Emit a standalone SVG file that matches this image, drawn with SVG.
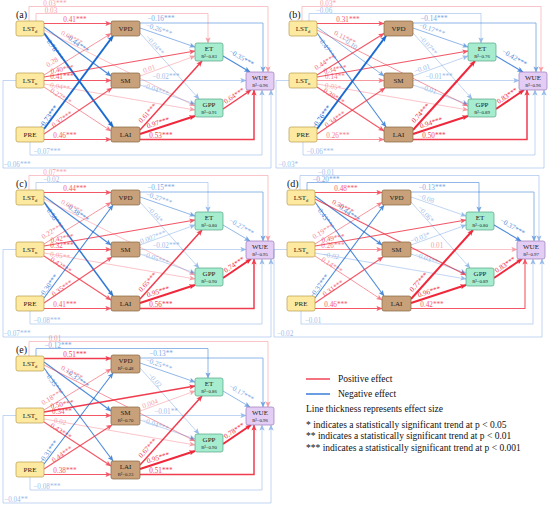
<svg xmlns="http://www.w3.org/2000/svg" width="550" height="508" viewBox="0 0 550 508">
<style>
text{font-family:"Liberation Serif","Times New Roman",serif}
.el path{fill:none}
.el text{font-size:7.2px;text-anchor:middle}
.p path{stroke:#f0283c;marker-end:url(#mr)}
.n path{stroke:#1b6ad1;marker-end:url(#mb)}
.p text{fill:#f0283c}
.n text{fill:#1b6ad1}
.s1{opacity:.45}.s1 path{stroke-width:.6}
.s2{opacity:.6}.s2 path{stroke-width:.8}
.s3{opacity:.78}.s3 path{stroke-width:1.1}
.s4{opacity:.9}.s4 path{stroke-width:1.5}
.s5 path{stroke-width:2}
.nd rect{stroke-width:.7}
.nd text{font-size:7px;text-anchor:middle;fill:#222}
.nd .r{font-size:4.8px}
.y rect{fill:#fde9a0;stroke:#b89c4c}
.b rect{fill:#c8a079;stroke:#86643f}
.g rect{fill:#a6eccf;stroke:#58a584}
.u rect{fill:#e3cdf4;stroke:#9a7cb9}
.pl{font-size:10px;fill:#111}
.lg{font-size:9.5px;fill:#111}
</style>
<defs>
<marker id="mr" markerUnits="userSpaceOnUse" markerWidth="6" markerHeight="6" refX="5.6" refY="3" orient="auto"><path d="M0,0.4L6,3L0,5.6L1.4,3z" fill="#f0283c"/></marker>
<marker id="mb" markerUnits="userSpaceOnUse" markerWidth="6" markerHeight="6" refX="5.6" refY="3" orient="auto"><path d="M0,0.4L6,3L0,5.6L1.4,3z" fill="#1b6ad1"/></marker>
</defs>

<!-- Panel a -->
<g id="panel-a">
<text class="pl" x="16" y="17.5">(a)</text>
<g id="a-connectors" class="el">
<g class="p s1"><path d="M29,21V6.5H268V72"/><text x="55" y="5.5">0.03***</text></g>
<g class="p s1"><path d="M36,21V13.5H208V43"/><text x="51" y="12.5">0.03</text></g>
<g class="p s3"><path d="M44,23.5H111"/><text x="75" y="21.5">0.41***</text></g>
<g class="n s3"><path d="M44,27L111,76"/><text transform="translate(77,43) rotate(36)" y="2.5">−0.44***</text></g>
<g class="n s5"><path d="M44,33L113,127"/><text transform="translate(54,48) rotate(55)" y="2.5">−0.76***</text></g>
<g class="p s1"><path d="M44,30L195,106"/><text transform="translate(72,37.5) rotate(27)" y="2.5">0.09***</text></g>
<g class="p s2"><path d="M44,75L111,33.5"/><text transform="translate(52,62) rotate(-31)" y="2.5">0.28</text></g>
<g class="p s3"><path d="M44,77L195,51"/><text transform="translate(62,69) rotate(-10)" y="2.5">0.40***</text></g>
<g class="p s3"><path d="M44,80.5H111"/><text x="62" y="79">0.41***</text></g>
<g class="p s1"><path d="M44,84L195,110"/><text transform="translate(60,86.5) rotate(10)" y="2.5">0.04**</text></g>
<g class="p s2"><path d="M44,87L111,131"/><text transform="translate(61,96) rotate(33)" y="2.5">0.27***</text></g>
<g class="n s1"><path d="M16,80.5H3V168H271V90"/><text x="17" y="166.5">−0.06***</text></g>
<g class="n s5"><path d="M44,129L113,36"/><text transform="translate(48,117) rotate(-54)" y="2.5">−0.73***</text></g>
<g class="p s3"><path d="M44,134L112,88"/><text transform="translate(62,119) rotate(-35)" y="2.5">0.37***</text></g>
<g class="p s3"><path d="M44,139.5H111"/><text x="65" y="138">0.46***</text></g>
<g class="n s1"><path d="M30,142V155H262V90"/><text x="47" y="153.5">−0.07***</text></g>
<g class="n s2"><path d="M140,23H263V72"/><text x="161" y="21">−0.16***</text></g>
<g class="n s2"><path d="M140,28L195,47"/><text transform="translate(159,29) rotate(19)" y="2.5">−0.26***</text></g>
<g class="n s1"><path d="M140,33L199,99"/><text transform="translate(155,45) rotate(48)" y="2.5">−0.04**</text></g>
<g class="p s1"><path d="M140,76L195,56"/><text transform="translate(149,68.5) rotate(-20)" y="2.5">0.01</text></g>
<g class="n s1"><path d="M140,80.5H246"/><text x="166" y="79">−0.02***</text></g>
<g class="n s1"><path d="M140,85L195,104"/><text transform="translate(155.5,89) rotate(19)" y="2.5">−0.04***</text></g>
<g class="p s4"><path d="M140,130L202,61"/><text transform="translate(147.5,113) rotate(-48)" y="2.5">0.61***</text></g>
<g class="p s5"><path d="M140,134L195,116"/><text transform="translate(158,122.5) rotate(-18)" y="2.5">0.97***</text></g>
<g class="p s4"><path d="M140,139.5H254V90"/><text x="161" y="138">0.53***</text></g>
<g class="n s3"><path d="M223,56L250,72"/><text transform="translate(241.5,57.5) rotate(30)" y="2.5">−0.35***</text></g>
<g class="p s4"><path d="M223,109L251,90"/><text transform="translate(234,95.5) rotate(-34)" y="2.5">0.64***</text></g>
</g>
<g id="a-LSTd" class="nd y"><rect x="16" y="21" width="28" height="15" rx="2"/><text x="30" y="31">LST<tspan font-size="4.5" dy="1.5">d</tspan></text></g>
<g id="a-LSTn" class="nd y"><rect x="16" y="73" width="28" height="15" rx="2"/><text x="30" y="83">LST<tspan font-size="4.5" dy="1.5">n</tspan></text></g>
<g id="a-PRE" class="nd y"><rect x="16" y="127" width="28" height="15" rx="2"/><text x="30" y="137">PRE</text></g>
<g id="a-VPD" class="nd b"><rect x="111" y="21" width="29" height="15" rx="2"/><text x="125.5" y="31">VPD</text></g>
<g id="a-SM" class="nd b"><rect x="111" y="73" width="29" height="15" rx="2"/><text x="125.5" y="83">SM</text></g>
<g id="a-LAI" class="nd b"><rect x="111" y="127" width="29" height="15" rx="2"/><text x="125.5" y="137">LAI</text></g>
<g id="a-ET" class="nd g"><rect x="195" y="43" width="28" height="18" rx="2"/><text x="209" y="51">ET</text><text class="r" x="209" y="58">R²=0.83</text></g>
<g id="a-GPP" class="nd g"><rect x="195" y="99" width="28" height="18" rx="2"/><text x="209" y="107">GPP</text><text class="r" x="209" y="114">R²=0.91</text></g>
<g id="a-WUE" class="nd u"><rect x="246" y="72" width="28" height="18" rx="2"/><text x="260" y="80">WUE</text><text class="r" x="260" y="87">R²=0.96</text></g>
</g>

<!-- Panel b -->
<g id="panel-b" transform="translate(273,0)">
<text class="pl" x="16" y="17.5">(b)</text>
<g id="b-connectors" class="el">
<g class="p s1"><path d="M29,21V6.5H268V72"/><text x="55" y="5.5">0.03*</text></g>
<g class="n s1"><path d="M36,21V13.5H208V43"/><text x="51" y="12.5">−0.06</text></g>
<g class="p s3"><path d="M44,23.5H111"/><text x="75" y="21.5">0.31***</text></g>
<g class="n s2"><path d="M44,27L111,76"/><text transform="translate(77,43) rotate(36)" y="2.5">−0.10</text></g>
<g class="n s3"><path d="M44,33L113,127"/><text transform="translate(54,48) rotate(55)" y="2.5">−0.47***</text></g>
<g class="p s2"><path d="M44,30L195,106"/><text transform="translate(72,37.5) rotate(27)" y="2.5">0.11***</text></g>
<g class="p s3"><path d="M44,75L111,33.5"/><text transform="translate(52,62) rotate(-31)" y="2.5">0.44***</text></g>
<g class="p s3"><path d="M44,77L195,51"/><text transform="translate(62,69) rotate(-10)" y="2.5">0.34***</text></g>
<g class="p s2"><path d="M44,80.5H111"/><text x="62" y="79">0.14**</text></g>
<g class="p s1"><path d="M44,84L195,110"/><text transform="translate(60,86.5) rotate(10)" y="2.5">0.05*</text></g>
<g class="p s3"><path d="M44,87L111,131"/><text transform="translate(61,96) rotate(33)" y="2.5">0.39***</text></g>
<g class="n s1"><path d="M16,80.5H3V168H271V90"/><text x="15" y="166.5">−0.03*</text></g>
<g class="n s5"><path d="M44,129L113,36"/><text transform="translate(48,117) rotate(-54)" y="2.5">−0.76***</text></g>
<g class="p s3"><path d="M44,134L112,88"/><text transform="translate(62,119) rotate(-35)" y="2.5">0.34***</text></g>
<g class="p s2"><path d="M44,139.5H111"/><text x="65" y="138">0.26***</text></g>
<g class="n s1"><path d="M30,142V155H262V90"/><text x="47" y="153.5">−0.06***</text></g>
<g class="n s2"><path d="M140,23H263V72"/><text x="161" y="21">−0.14***</text></g>
<g class="n s2"><path d="M140,28L195,47"/><text transform="translate(159,29) rotate(19)" y="2.5">−0.17***</text></g>
<g class="n s1"><path d="M140,33L199,99"/><text transform="translate(155,45) rotate(48)" y="2.5">−0.07**</text></g>
<g class="n s1"><path d="M140,76L195,56"/><text transform="translate(149,68.5) rotate(-20)" y="2.5">−0.01</text></g>
<g class="n s1"><path d="M140,80.5H246"/><text x="166" y="79">−0.01***</text></g>
<g class="n s1"><path d="M140,85L195,104"/><text transform="translate(155.5,89) rotate(19)" y="2.5">−0.01</text></g>
<g class="p s5"><path d="M140,130L202,61"/><text transform="translate(147.5,113) rotate(-48)" y="2.5">0.74***</text></g>
<g class="p s5"><path d="M140,134L195,116"/><text transform="translate(158,122.5) rotate(-18)" y="2.5">0.94***</text></g>
<g class="p s4"><path d="M140,139.5H254V90"/><text x="161" y="138">0.50***</text></g>
<g class="n s3"><path d="M223,56L250,72"/><text transform="translate(241.5,57.5) rotate(30)" y="2.5">−0.42***</text></g>
<g class="p s5"><path d="M223,109L251,90"/><text transform="translate(234,95.5) rotate(-34)" y="2.5">0.83***</text></g>
</g>
<g id="b-LSTd" class="nd y"><rect x="16" y="21" width="28" height="15" rx="2"/><text x="30" y="31">LST<tspan font-size="4.5" dy="1.5">d</tspan></text></g>
<g id="b-LSTn" class="nd y"><rect x="16" y="73" width="28" height="15" rx="2"/><text x="30" y="83">LST<tspan font-size="4.5" dy="1.5">n</tspan></text></g>
<g id="b-PRE" class="nd y"><rect x="16" y="127" width="28" height="15" rx="2"/><text x="30" y="137">PRE</text></g>
<g id="b-VPD" class="nd b"><rect x="111" y="21" width="29" height="15" rx="2"/><text x="125.5" y="31">VPD</text></g>
<g id="b-SM" class="nd b"><rect x="111" y="73" width="29" height="15" rx="2"/><text x="125.5" y="83">SM</text></g>
<g id="b-LAI" class="nd b"><rect x="111" y="127" width="29" height="15" rx="2"/><text x="125.5" y="137">LAI</text></g>
<g id="b-ET" class="nd g"><rect x="195" y="43" width="28" height="18" rx="2"/><text x="209" y="51">ET</text><text class="r" x="209" y="58">R²=0.76</text></g>
<g id="b-GPP" class="nd g"><rect x="195" y="99" width="28" height="18" rx="2"/><text x="209" y="107">GPP</text><text class="r" x="209" y="114">R²=0.89</text></g>
<g id="b-WUE" class="nd u"><rect x="246" y="72" width="28" height="18" rx="2"/><text x="260" y="80">WUE</text><text class="r" x="260" y="87">R²=0.96</text></g>
</g>

<!-- Panel c -->
<g id="panel-c" transform="translate(0,169)">
<text class="pl" x="16" y="17.5">(c)</text>
<g id="c-connectors" class="el">
<g class="p s1"><path d="M29,21V6.5H268V72"/><text x="55" y="5.5">0.07***</text></g>
<g class="n s1"><path d="M36,21V13.5H208V43"/><text x="51" y="12.5">−0.02</text></g>
<g class="p s3"><path d="M44,23.5H111"/><text x="75" y="21.5">0.44***</text></g>
<g class="n s3"><path d="M44,27L111,76"/><text transform="translate(77,43) rotate(36)" y="2.5">−0.38***</text></g>
<g class="n s4"><path d="M44,33L113,127"/><text transform="translate(54,48) rotate(55)" y="2.5">−0.58***</text></g>
<g class="p s1"><path d="M44,30L195,106"/><text transform="translate(72,37.5) rotate(27)" y="2.5">0.09***</text></g>
<g class="p s2"><path d="M44,75L111,33.5"/><text transform="translate(52,62) rotate(-31)" y="2.5">0.22***</text></g>
<g class="p s3"><path d="M44,77L195,51"/><text transform="translate(62,69) rotate(-10)" y="2.5">0.42***</text></g>
<g class="p s3"><path d="M44,80.5H111"/><text x="62" y="79">0.32***</text></g>
<g class="p s1"><path d="M44,84L195,110"/><text transform="translate(60,86.5) rotate(10)" y="2.5">0.05**</text></g>
<g class="p s3"><path d="M44,87L111,131"/><text transform="translate(61,96) rotate(33)" y="2.5">0.42***</text></g>
<g class="n s1"><path d="M16,80.5H3V168H271V90"/><text x="17" y="166.5">−0.07***</text></g>
<g class="n s3"><path d="M44,129L113,36"/><text transform="translate(48,117) rotate(-54)" y="2.5">−0.30***</text></g>
<g class="p s3"><path d="M44,134L112,88"/><text transform="translate(62,119) rotate(-35)" y="2.5">0.35***</text></g>
<g class="p s3"><path d="M44,139.5H111"/><text x="65" y="138">0.41***</text></g>
<g class="n s1"><path d="M30,142V155H262V90"/><text x="47" y="153.5">−0.08***</text></g>
<g class="n s2"><path d="M140,23H263V72"/><text x="161" y="21">−0.15***</text></g>
<g class="n s2"><path d="M140,28L195,47"/><text transform="translate(159,29) rotate(19)" y="2.5">−0.27***</text></g>
<g class="n s1"><path d="M140,33L199,99"/><text transform="translate(155,45) rotate(48)" y="2.5">−0.04*</text></g>
<g class="n s1"><path d="M140,76L195,56"/><text transform="translate(151,68.5) rotate(-20)" y="2.5">−0.007***</text></g>
<g class="n s1"><path d="M140,80.5H246"/><text x="166" y="79">−0.02***</text></g>
<g class="n s1"><path d="M140,85L195,104"/><text transform="translate(155.5,89) rotate(19)" y="2.5">−0.05***</text></g>
<g class="p s4"><path d="M140,130L202,61"/><text transform="translate(147.5,113) rotate(-48)" y="2.5">0.65***</text></g>
<g class="p s5"><path d="M140,134L195,116"/><text transform="translate(158,122.5) rotate(-18)" y="2.5">0.95***</text></g>
<g class="p s4"><path d="M140,139.5H254V90"/><text x="161" y="138">0.56***</text></g>
<g class="n s2"><path d="M223,56L250,72"/><text transform="translate(241.5,57.5) rotate(30)" y="2.5">−0.27***</text></g>
<g class="p s5"><path d="M223,109L251,90"/><text transform="translate(234,95.5) rotate(-34)" y="2.5">0.74***</text></g>
</g>
<g id="c-LSTd" class="nd y"><rect x="16" y="21" width="28" height="15" rx="2"/><text x="30" y="31">LST<tspan font-size="4.5" dy="1.5">d</tspan></text></g>
<g id="c-LSTn" class="nd y"><rect x="16" y="73" width="28" height="15" rx="2"/><text x="30" y="83">LST<tspan font-size="4.5" dy="1.5">n</tspan></text></g>
<g id="c-PRE" class="nd y"><rect x="16" y="127" width="28" height="15" rx="2"/><text x="30" y="137">PRE</text></g>
<g id="c-VPD" class="nd b"><rect x="111" y="21" width="29" height="15" rx="2"/><text x="125.5" y="31">VPD</text></g>
<g id="c-SM" class="nd b"><rect x="111" y="73" width="29" height="15" rx="2"/><text x="125.5" y="83">SM</text></g>
<g id="c-LAI" class="nd b"><rect x="111" y="127" width="29" height="15" rx="2"/><text x="125.5" y="137">LAI</text></g>
<g id="c-ET" class="nd g"><rect x="195" y="43" width="28" height="18" rx="2"/><text x="209" y="51">ET</text><text class="r" x="209" y="58">R²=0.80</text></g>
<g id="c-GPP" class="nd g"><rect x="195" y="99" width="28" height="18" rx="2"/><text x="209" y="107">GPP</text><text class="r" x="209" y="114">R²=0.90</text></g>
<g id="c-WUE" class="nd u"><rect x="246" y="72" width="28" height="18" rx="2"/><text x="260" y="80">WUE</text><text class="r" x="260" y="87">R²=0.95</text></g>
</g>

<!-- Panel d -->
<g id="panel-d" transform="translate(271,169)">
<text class="pl" x="16" y="17.5">(d)</text>
<g id="d-connectors" class="el">
<g class="n s1"><path d="M29,21V6.5H268V72"/><text x="55" y="5.5">−0.01</text></g>
<g class="n s2"><path d="M36,21V13.5H208V43"/><text x="55" y="12.5">−0.20***</text></g>
<g class="p s3"><path d="M44,23.5H111"/><text x="75" y="21.5">0.48***</text></g>
<g class="n s3"><path d="M44,27L111,76"/><text transform="translate(77,43) rotate(36)" y="2.5">−0.44***</text></g>
<g class="n s3"><path d="M44,33L113,127"/><text transform="translate(54,48) rotate(55)" y="2.5">−0.43***</text></g>
<g class="p s3"><path d="M44,30L195,106"/><text transform="translate(72,37.5) rotate(27)" y="2.5">0.30***</text></g>
<g class="p s2"><path d="M44,75L111,33.5"/><text transform="translate(52,62) rotate(-31)" y="2.5">0.19***</text></g>
<g class="p s3"><path d="M44,77L195,51"/><text transform="translate(62,69) rotate(-10)" y="2.5">0.49***</text></g>
<g class="p s2"><path d="M44,80.5H111"/><text x="62" y="79">0.26***</text></g>
<g class="n s1"><path d="M44,84L195,110"/><text transform="translate(60,86.5) rotate(10)" y="2.5">−0.02</text></g>
<g class="p s2"><path d="M44,87L111,131"/><text transform="translate(61,96) rotate(33)" y="2.5">0.14***</text></g>
<g class="n s1"><path d="M16,80.5H3V168H271V90"/><text x="14" y="166.5">−0.02</text></g>
<g class="n s3"><path d="M44,129L113,36"/><text transform="translate(48,117) rotate(-54)" y="2.5">−0.37***</text></g>
<g class="p s3"><path d="M44,134L112,88"/><text transform="translate(62,119) rotate(-35)" y="2.5">0.31***</text></g>
<g class="p s3"><path d="M44,139.5H111"/><text x="65" y="138">0.46***</text></g>
<g class="n s1"><path d="M30,142V155H262V90"/><text x="42" y="153.5">−0.01</text></g>
<g class="n s2"><path d="M140,23H263V72"/><text x="161" y="21">−0.13***</text></g>
<g class="n s1"><path d="M140,28L195,47"/><text transform="translate(155,29) rotate(19)" y="2.5">−0.08</text></g>
<g class="n s1"><path d="M140,33L199,99"/><text transform="translate(155,45) rotate(48)" y="2.5">−0.06*</text></g>
<g class="n s1"><path d="M140,76L195,56"/><text transform="translate(149,68.5) rotate(-20)" y="2.5">−0.03*</text></g>
<g class="p s1"><path d="M140,80.5H246"/><text x="166" y="79">0.01</text></g>
<g class="n s1"><path d="M140,85L195,104"/><text transform="translate(155.5,89) rotate(19)" y="2.5">−0.03**</text></g>
<g class="p s5"><path d="M140,130L202,61"/><text transform="translate(147.5,113) rotate(-48)" y="2.5">0.77***</text></g>
<g class="p s5"><path d="M140,134L195,116"/><text transform="translate(158,122.5) rotate(-18)" y="2.5">0.96***</text></g>
<g class="p s3"><path d="M140,139.5H254V90"/><text x="161" y="138">0.42***</text></g>
<g class="n s3"><path d="M223,56L250,72"/><text transform="translate(241.5,57.5) rotate(30)" y="2.5">−0.37***</text></g>
<g class="p s5"><path d="M223,109L251,90"/><text transform="translate(234,95.5) rotate(-34)" y="2.5">0.83***</text></g>
</g>
<g id="d-LSTd" class="nd y"><rect x="16" y="21" width="28" height="15" rx="2"/><text x="30" y="31">LST<tspan font-size="4.5" dy="1.5">d</tspan></text></g>
<g id="d-LSTn" class="nd y"><rect x="16" y="73" width="28" height="15" rx="2"/><text x="30" y="83">LST<tspan font-size="4.5" dy="1.5">n</tspan></text></g>
<g id="d-PRE" class="nd y"><rect x="16" y="127" width="28" height="15" rx="2"/><text x="30" y="137">PRE</text></g>
<g id="d-VPD" class="nd b"><rect x="111" y="21" width="29" height="15" rx="2"/><text x="125.5" y="31">VPD</text></g>
<g id="d-SM" class="nd b"><rect x="111" y="73" width="29" height="15" rx="2"/><text x="125.5" y="83">SM</text></g>
<g id="d-LAI" class="nd b"><rect x="111" y="127" width="29" height="15" rx="2"/><text x="125.5" y="137">LAI</text></g>
<g id="d-ET" class="nd g"><rect x="195" y="43" width="28" height="18" rx="2"/><text x="209" y="51">ET</text><text class="r" x="209" y="58">R²=0.80</text></g>
<g id="d-GPP" class="nd g"><rect x="195" y="99" width="28" height="18" rx="2"/><text x="209" y="107">GPP</text><text class="r" x="209" y="114">R²=0.89</text></g>
<g id="d-WUE" class="nd u"><rect x="246" y="72" width="28" height="18" rx="2"/><text x="260" y="80">WUE</text><text class="r" x="260" y="87">R²=0.97</text></g>
</g>

<!-- Panel e -->
<g id="panel-e" transform="translate(0,335)">
<text class="pl" x="16" y="17.5">(e)</text>
<g id="e-connectors" class="el">
<g class="p s1"><path d="M29,21V6.5H268V72"/><text x="55" y="5.5">0.01</text></g>
<g class="n s2"><path d="M36,21V13.5H208V43"/><text x="58" y="12.5">−0.12***</text></g>
<g class="p s4"><path d="M44,23.5H111"/><text x="75" y="21.5">0.51***</text></g>
<g class="n s3"><path d="M44,27L111,76"/><text transform="translate(77,43) rotate(36)" y="2.5">−0.37***</text></g>
<g class="n s3"><path d="M44,33L113,126"/><text transform="translate(54,48) rotate(55)" y="2.5">−0.35***</text></g>
<g class="p s2"><path d="M44,30L195,106"/><text transform="translate(72,37.5) rotate(27)" y="2.5">0.12***</text></g>
<g class="p s2"><path d="M44,75L111,34"/><text transform="translate(52,62) rotate(-31)" y="2.5">0.18***</text></g>
<g class="p s4"><path d="M44,77L195,51"/><text transform="translate(62,69) rotate(-10)" y="2.5">0.50***</text></g>
<g class="p s3"><path d="M44,80.5H111"/><text x="62" y="79">0.34**</text></g>
<g class="p s1"><path d="M44,84L195,110"/><text transform="translate(60,86.5) rotate(10)" y="2.5">0.02</text></g>
<g class="p s3"><path d="M44,87L111,131"/><text transform="translate(61,96) rotate(33)" y="2.5">0.43***</text></g>
<g class="n s1"><path d="M16,80.5H3V168H271V90"/><text x="16" y="166.5">−0.04**</text></g>
<g class="n s3"><path d="M44,129L113,38"/><text transform="translate(48,117) rotate(-54)" y="2.5">−0.31***</text></g>
<g class="p s3"><path d="M44,134L112,90"/><text transform="translate(62,119) rotate(-35)" y="2.5">0.44***</text></g>
<g class="p s3"><path d="M44,139.5H111"/><text x="65" y="138">0.38***</text></g>
<g class="n s1"><path d="M30,142V155H262V90"/><text x="47" y="153.5">−0.08***</text></g>
<g class="n s2"><path d="M140,23H263V72"/><text x="161" y="21">−0.13**</text></g>
<g class="n s2"><path d="M140,28L195,47"/><text transform="translate(159,29) rotate(19)" y="2.5">−0.25***</text></g>
<g class="n s1"><path d="M140,33L199,99"/><text transform="translate(155,45) rotate(48)" y="2.5">−0.02</text></g>
<g class="p s1"><path d="M140,76L195,56"/><text transform="translate(150,68.5) rotate(-20)" y="2.5">0.004</text></g>
<g class="n s1"><path d="M140,80.5H246"/><text x="166" y="79">−0.01**</text></g>
<g class="n s1"><path d="M140,85L195,104"/><text transform="translate(155.5,89) rotate(19)" y="2.5">−0.04***</text></g>
<g class="p s4"><path d="M140,130L202,61"/><text transform="translate(147.5,113) rotate(-48)" y="2.5">0.67***</text></g>
<g class="p s5"><path d="M140,134L195,116"/><text transform="translate(158,122.5) rotate(-18)" y="2.5">0.95***</text></g>
<g class="p s4"><path d="M140,139.5H254V90"/><text x="161" y="138">0.51***</text></g>
<g class="n s2"><path d="M223,56L250,72"/><text transform="translate(241.5,57.5) rotate(30)" y="2.5">−0.17***</text></g>
<g class="p s5"><path d="M223,109L251,90"/><text transform="translate(234,95.5) rotate(-34)" y="2.5">0.78***</text></g>
</g>
<g id="e-LSTd" class="nd y"><rect x="16" y="21" width="28" height="15" rx="2"/><text x="30" y="31">LST<tspan font-size="4.5" dy="1.5">d</tspan></text></g>
<g id="e-LSTn" class="nd y"><rect x="16" y="73" width="28" height="15" rx="2"/><text x="30" y="83">LST<tspan font-size="4.5" dy="1.5">n</tspan></text></g>
<g id="e-PRE" class="nd y"><rect x="16" y="127" width="28" height="15" rx="2"/><text x="30" y="137">PRE</text></g>
<g id="e-VPD" class="nd b"><rect x="111" y="20" width="29" height="18" rx="2"/><text x="125.5" y="28">VPD</text><text class="r" x="125.5" y="35">R²=0.48</text></g>
<g id="e-SM" class="nd b"><rect x="111" y="72" width="29" height="18" rx="2"/><text x="125.5" y="80">SM</text><text class="r" x="125.5" y="87">R²=0.70</text></g>
<g id="e-LAI" class="nd b"><rect x="111" y="126" width="29" height="18" rx="2"/><text x="125.5" y="134">LAI</text><text class="r" x="125.5" y="141">R²=0.23</text></g>
<g id="e-ET" class="nd g"><rect x="195" y="43" width="28" height="18" rx="2"/><text x="209" y="51">ET</text><text class="r" x="209" y="58">R²=0.86</text></g>
<g id="e-GPP" class="nd g"><rect x="195" y="99" width="28" height="18" rx="2"/><text x="209" y="107">GPP</text><text class="r" x="209" y="114">R²=0.90</text></g>
<g id="e-WUE" class="nd u"><rect x="246" y="72" width="28" height="18" rx="2"/><text x="260" y="80">WUE</text><text class="r" x="260" y="87">R²=0.96</text></g>
</g>

<!-- Legend -->
<g id="legend">
<line x1="306" y1="379" x2="330" y2="379" stroke="#f0283c" stroke-width="1.3"/>
<text class="lg" x="338" y="382">Positive effect</text>
<line x1="306" y1="394" x2="330" y2="394" stroke="#1b6ad1" stroke-width="1.3"/>
<text class="lg" x="338" y="397">Negative effect</text>
<text class="lg" x="306" y="412">Line thickness represents effect size</text>
<text class="lg" x="306" y="427.5">* indicates a statistically significant trend at p &lt; 0.05</text>
<text class="lg" x="306" y="439">** indicates a statistically significant trend at p &lt; 0.01</text>
<text class="lg" x="306" y="450.5">*** indicates a statistically significant trend at p &lt; 0.001</text>
</g>
</svg>
